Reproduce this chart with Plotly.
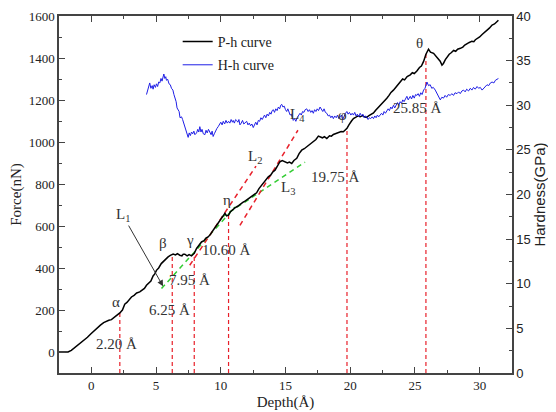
import plotly.graph_objects as go

# ---------------- data ----------------
depth_P = [-2.50, -1.80, -1.55, -1.30, -1.05, -0.80, -0.55, -0.30, -0.05, 0.20, 0.45, 0.70, 0.95, 1.15,
           1.35, 1.55, 1.75, 1.95, 2.20, 2.40, 2.58, 2.75, 2.95, 3.10, 3.30, 3.50, 3.74, 3.95, 4.10, 4.26,
           4.45, 4.60, 4.77, 4.90, 5.03, 5.20, 5.40, 5.54, 5.70, 5.93, 6.10, 6.32, 6.50, 6.65, 6.83, 7.00,
           7.10, 7.22, 7.40, 7.55, 7.74, 7.95, 8.13, 8.30, 8.51, 8.70, 8.85, 9.02, 9.20, 9.41, 9.60, 9.80,
           9.93, 10.10, 10.32, 10.45, 10.60, 10.75, 10.90, 11.09, 11.30, 11.48, 11.70, 11.90, 12.10, 12.25,
           12.45, 12.60, 12.77, 12.95, 13.16, 13.35, 13.50, 13.67, 13.85, 14.00, 14.19, 14.35, 14.57, 14.75,
           14.96, 15.15, 15.30, 15.48, 15.65, 15.87, 16.05, 16.25, 16.45, 16.64, 16.85, 17.03, 17.15, 17.35,
           17.54, 17.67, 17.85, 18.00, 18.19, 18.40, 18.55, 18.70, 18.90, 19.10, 19.30, 19.47, 19.60, 19.75,
           19.90, 19.99, 20.10, 20.25, 20.40, 20.60, 20.77, 20.95, 21.10, 21.28, 21.45, 21.60, 21.80, 21.95,
           22.10, 22.31, 22.45, 22.60, 22.83, 23.00, 23.15, 23.34, 23.50, 23.70, 23.86, 24.05, 24.20, 24.40,
           24.64, 24.80, 24.95, 25.15, 25.35, 25.50, 25.67, 25.85, 26.05, 26.20, 26.44, 26.60, 26.83, 26.95,
           27.09, 27.20, 27.35, 27.48, 27.65, 27.80, 27.99, 28.15, 28.30, 28.51, 28.70, 28.85, 29.02, 29.20,
           29.40, 29.55, 29.67, 29.85, 30.00, 30.19, 30.35, 30.57, 30.75, 30.96, 31.15, 31.35, 31.45]
force_P = [0, 0, 8, 20, 33, 47, 58, 70, 86, 101, 116, 128, 140, 146,
           151, 154, 163, 175, 186, 200, 228, 236, 252, 262, 270, 281, 286, 296, 303, 318,
           330, 338, 362, 372, 389, 400, 421, 430, 441, 453, 460, 466, 462, 468, 461, 458,
           466, 466, 458, 464, 458, 470, 493, 505, 524, 530, 542, 548, 560, 580, 598, 612,
           628, 640, 660, 648, 652, 668, 677, 686, 694, 704, 712, 720, 728, 733,
           742, 748, 758, 778, 795, 806, 822, 834, 842, 856, 866, 884, 906, 912,
           906, 900, 904, 898, 912, 922, 945, 961, 968, 977, 985, 997, 1001, 1012,
           1028, 1025, 1020, 1025, 1017, 1030, 1028, 1036, 1040, 1044, 1050, 1049, 1058, 1065,
           1082, 1092, 1100, 1112, 1118, 1124, 1120, 1126, 1120, 1117, 1126, 1130, 1138, 1150,
           1160, 1170, 1182, 1194, 1208, 1222, 1236, 1247, 1258, 1276, 1287, 1300, 1296, 1312,
           1320, 1330, 1326, 1338, 1355, 1362, 1384, 1418, 1442, 1428, 1422, 1410, 1398, 1385,
           1366, 1374, 1392, 1406, 1418, 1425, 1436, 1432, 1442, 1446, 1452, 1462, 1470, 1474,
           1480, 1478, 1487, 1494, 1500, 1512, 1520, 1533, 1542, 1557, 1562, 1574, 1580]

depth_H = [4.26, 4.35, 4.45, 4.51, 4.60, 4.70, 4.77, 4.85, 4.95, 5.03, 5.12, 5.20, 5.29, 5.38, 5.46,
           5.53, 5.60, 5.68, 5.75, 5.80, 5.90, 6.00, 6.10, 6.19, 6.30, 6.38, 6.45, 6.55, 6.62, 6.70,
           6.78, 6.85, 6.97, 7.05, 7.13, 7.22, 7.30, 7.38, 7.48, 7.56, 7.65, 7.74, 7.83, 7.92, 8.00,
           8.13, 8.22, 8.30, 8.38, 8.47, 8.55, 8.65, 8.77, 8.86, 8.95, 9.05, 9.16, 9.25, 9.33, 9.41,
           9.50, 9.60, 9.70, 9.80, 9.90, 10.00, 10.10, 10.19, 10.30, 10.40, 10.50, 10.60, 10.70, 10.80,
           10.90, 10.96, 11.05, 11.15, 11.22, 11.32, 11.40, 11.48, 11.58, 11.68, 11.78, 11.88, 12.00,
           12.10, 12.20, 12.30, 12.40, 12.51, 12.60, 12.70, 12.80, 12.90, 13.00, 13.10, 13.20, 13.28,
           13.38, 13.48, 13.58, 13.68, 13.78, 13.88, 13.97, 14.06, 14.15, 14.25, 14.35, 14.45, 14.55,
           14.63, 14.71, 14.80, 14.90, 15.00, 15.09, 15.18, 15.27, 15.36, 15.45, 15.52, 15.60, 15.70,
           15.80, 15.90, 16.00, 16.12, 16.22, 16.32, 16.42, 16.52, 16.64, 16.75, 16.85, 16.95, 17.05,
           17.15, 17.25, 17.35, 17.45, 17.55, 17.67, 17.78, 17.88, 17.98, 18.08, 18.19, 18.30, 18.40,
           18.50, 18.60, 18.70, 18.80, 18.92, 19.02, 19.12, 19.22, 19.32, 19.42, 19.52, 19.64, 19.74,
           19.84, 19.94, 20.05, 20.15, 20.25, 20.35, 20.45, 20.55, 20.66, 20.77, 20.88, 20.98, 21.08,
           21.18, 21.28, 21.38, 21.48, 21.58, 21.70, 21.80, 21.90, 22.00, 22.10, 22.20, 22.31, 22.42,
           22.52, 22.62, 22.72, 22.83, 22.93, 23.03, 23.13, 23.23, 23.34, 23.44, 23.54, 23.65, 23.75,
           23.86, 23.96, 24.06, 24.16, 24.27, 24.38, 24.48, 24.58, 24.64, 24.74, 24.84, 24.95, 25.05,
           25.15, 25.25, 25.35, 25.45, 25.55, 25.67, 25.78, 25.93, 26.05, 26.18, 26.30, 26.42, 26.57,
           26.68, 26.80, 26.90, 26.96, 27.08, 27.21, 27.33, 27.45, 27.58, 27.73, 27.85, 27.98, 28.10,
           28.25, 28.38, 28.50, 28.63, 28.76, 28.88, 29.00, 29.14, 29.28, 29.40, 29.53, 29.66, 29.80,
           29.92, 30.05, 30.19, 30.32, 30.45, 30.57, 30.70, 30.83, 30.96, 31.10, 31.22, 31.35, 31.45]
hard_H = [31.2, 31.8, 32.4, 32.5, 31.9, 32.2, 31.8, 32.3, 32.0, 32.4, 32.1, 32.6, 32.5, 33.0, 32.7,
          33.2, 33.5, 33.0, 33.2, 32.8, 32.9, 32.4, 32.3, 31.9, 31.7, 31.2, 30.9, 30.4, 29.7, 29.5,
          29.3, 28.6, 28.7, 28.4, 28.0, 27.6, 27.3, 26.8, 26.4, 26.9, 26.6, 27.0, 26.8, 27.1, 26.7,
          26.9, 27.3, 27.0, 27.6, 27.0, 27.3, 26.8, 26.7, 27.2, 26.9, 27.3, 27.0, 26.7, 27.1, 26.5,
          26.8, 27.2, 27.4, 27.6, 27.9, 28.1, 27.8, 28.2, 27.9, 28.3, 28.0, 28.2, 28.0, 28.4,
          28.1, 28.3, 28.0, 28.4, 28.3, 28.1, 28.4, 27.8, 28.0, 28.3, 27.9, 28.1, 28.2,
          27.8, 28.0, 27.7, 27.9, 27.5, 27.9, 28.1, 27.8, 28.3, 28.2, 28.6, 28.4, 28.7,
          28.9, 28.6, 29.0, 28.8, 29.2, 29.0, 29.4, 29.5, 29.2, 29.6, 29.4, 29.8, 29.6,
          30.0, 30.1, 29.8, 29.9, 29.5, 29.3, 29.6, 29.1, 28.9, 29.0, 28.6, 28.3, 28.5,
          28.2, 28.6, 28.8, 29.1, 28.9, 29.3, 29.2, 29.5, 29.6, 29.3, 29.5, 29.2, 29.4,
          29.1, 29.5, 29.3, 29.6, 29.4, 29.8, 29.5, 29.3, 29.6, 29.2, 29.1, 28.8, 28.9,
          28.6, 28.8, 28.5, 28.8, 28.6, 28.9, 28.5, 28.7, 28.9, 28.4, 28.8, 29.1, 29.3,
          29.0, 29.2, 28.9, 29.1, 28.9, 29.2, 28.8, 29.0, 28.7, 29.1, 28.8, 29.0, 28.6,
          28.8, 28.7, 28.4, 28.6, 28.5, 28.7, 28.5, 28.8, 28.6, 28.9, 28.7, 28.9, 29.1,
          28.9, 29.3, 29.1, 29.3, 29.6, 29.4, 29.8, 29.6, 30.0, 29.7, 30.1, 30.3, 30.0,
          30.4, 30.2, 30.6, 30.4, 30.8, 31.0, 30.6, 30.9, 31.0, 30.7, 31.1, 30.8, 31.2,
          31.1, 31.3, 31.0, 31.4, 31.2, 31.7, 31.9, 32.6, 32.2, 32.3, 31.9, 32.0, 31.7,
          31.4, 31.0, 30.8, 30.6, 30.9, 30.8, 31.1, 30.9, 31.2, 31.1, 31.3, 31.1, 31.4,
          31.3, 31.5, 31.3, 31.6, 31.7, 31.5, 31.8, 31.6, 31.9, 31.7, 32.0, 31.8, 32.1,
          31.9, 32.0, 31.7, 31.9, 32.2, 32.3, 32.2, 32.5, 32.6, 32.5, 32.8, 32.9, 33.0]

# critical depths (Å) and the force reached there (nN)
crit_depth = [2.20, 6.25, 7.95, 10.60, 19.75, 25.85]
crit_force = [186, 466, 470, 652, 1065, 1420]
crit_labels = ["2.20 Å", "6.25 Å", "7.95 Å", "10.60 Å", "19.75 Å", "25.85 Å"]
crit_label_pos = [(1.94, 40), (6.06, 199), (7.61, 342), (10.45, 488), (18.9, 834), (25.2, 1160)]

greek = ["α", "β", "γ", "η", "φ", "θ"]
greek_pos = [(1.94, 238), (5.54, 517), (7.61, 532), (10.45, 723), (19.43, 1128), (25.36, 1473)]

# fitted slopes (dashed lines)
L1_x, L1_y = [5.42, 11.09], [302, 690]
L3_x, L3_y = [10.09, 16.51], [642, 904]
L2_x, L2_y = [7.60, 12.72], [413, 885]
L4_x, L4_y = [11.48, 15.96], [603, 1056]

SERIF = "Liberation Serif, Times New Roman, serif"
SANS = "Liberation Sans, Arial, sans-serif"
AX = "#444444"
TXT = "#333333"

fig = go.Figure()

# vertical red dashed markers
vx, vy = [], []
for d, f in zip(crit_depth, crit_force):
    vx += [d, d, None]
    vy += [-100, f, None]
fig.add_trace(go.Scatter(x=vx, y=vy, mode="lines", showlegend=False, hoverinfo="skip",
                         line=dict(color="#e8202a", width=1.2, dash="4px,3px")))

for xs, ys, col in [(L1_x, L1_y, "#33cc33"), (L3_x, L3_y, "#33cc33"),
                    (L2_x, L2_y, "#e8202a"), (L4_x, L4_y, "#e8202a")]:
    fig.add_trace(go.Scatter(x=xs, y=ys, mode="lines", showlegend=False, hoverinfo="skip",
                             line=dict(color=col, width=1.5, dash="5px,4px")))

fig.add_trace(go.Scatter(x=depth_P, y=force_P, mode="lines", name="P-h curve", legendgroup="p",
                         line=dict(color="black", width=1.5)))
fig.add_trace(go.Scatter(x=depth_H, y=hard_H, mode="lines", name="H-h curve", legendgroup="h",
                         yaxis="y2", line=dict(color="#1f1fe6", width=1)))

annotations = []
for (x, y), t in zip(crit_label_pos, crit_labels):
    annotations.append(dict(x=x, y=y, xref="x", yref="y", text=t, showarrow=False,
                            font=dict(family=SERIF, size=15, color=TXT)))
for (x, y), t in zip(greek_pos, greek):
    annotations.append(dict(x=x, y=y, xref="x", yref="y", text=t, showarrow=False,
                            font=dict(family=SERIF, size=15, color=TXT)))
for t, (x, y) in [("L<sub>2</sub>", (12.64, 929)), ("L<sub>3</sub>", (15.17, 779)),
                  ("L<sub>4</sub>", (15.94, 1128))]:
    annotations.append(dict(x=x, y=y, xref="x", yref="y", text=t, showarrow=False,
                            font=dict(family=SERIF, size=15, color=TXT)))
annotations.append(dict(x=5.54, y=313, xref="x", yref="y", ax=2.42, ay=652, axref="x", ayref="y",
                        text="L<sub>1</sub>", showarrow=True, arrowhead=2, arrowsize=1.2,
                        arrowwidth=1, arrowcolor=TXT, font=dict(family=SERIF, size=15, color=TXT)))

tick_common = dict(ticks="inside", ticklen=6, tickwidth=1.2, tickcolor=AX, showline=True,
                   linecolor=AX, linewidth=1.5, showgrid=False, zeroline=False, automargin=False)

# the page body adds an 8px offset, so the figure is 8px smaller and margins shifted
fig.update_layout(
    width=548, height=404,
    margin=dict(l=51, r=44, t=8, b=39),
    plot_bgcolor="white", paper_bgcolor="white",
    xaxis=dict(range=[-2.5, 32.5], tick0=0, dtick=5, mirror="ticks",
               minor=dict(dtick=2.5, ticks="inside", ticklen=3.5, tickcolor=AX, showgrid=False),
               tickfont=dict(family=SERIF, size=13, color="#222"),
               title=dict(text="Depth(Å)", font=dict(family=SERIF, size=15, color="#222"), standoff=4),
               **tick_common),
    yaxis=dict(range=[-100, 1600], tick0=0, dtick=200, mirror=False,
               minor=dict(dtick=100, ticks="inside", ticklen=3.5, tickcolor=AX, showgrid=False),
               tickfont=dict(family=SERIF, size=13, color="#222"),
               title=dict(text="Force(nN)", font=dict(family=SERIF, size=15, color="#222"), standoff=4),
               **tick_common),
    yaxis2=dict(range=[0, 40], tick0=0, dtick=5, overlaying="y", side="right",
                minor=dict(dtick=2.5, ticks="inside", ticklen=3.5, tickcolor=AX, showgrid=False),
                tickfont=dict(family=SANS, size=13, color="#222"),
                title=dict(text="Hardness(GPa)", font=dict(family=SANS, size=15, color="#222"), standoff=2),
                **tick_common),
    legend=dict(x=0.262, y=0.972, xanchor="left", yanchor="top", bgcolor="rgba(0,0,0,0)",
                font=dict(family=SERIF, size=14, color="#222"), tracegroupgap=2),
    annotations=annotations,
)

fig.write_html("out.html")
